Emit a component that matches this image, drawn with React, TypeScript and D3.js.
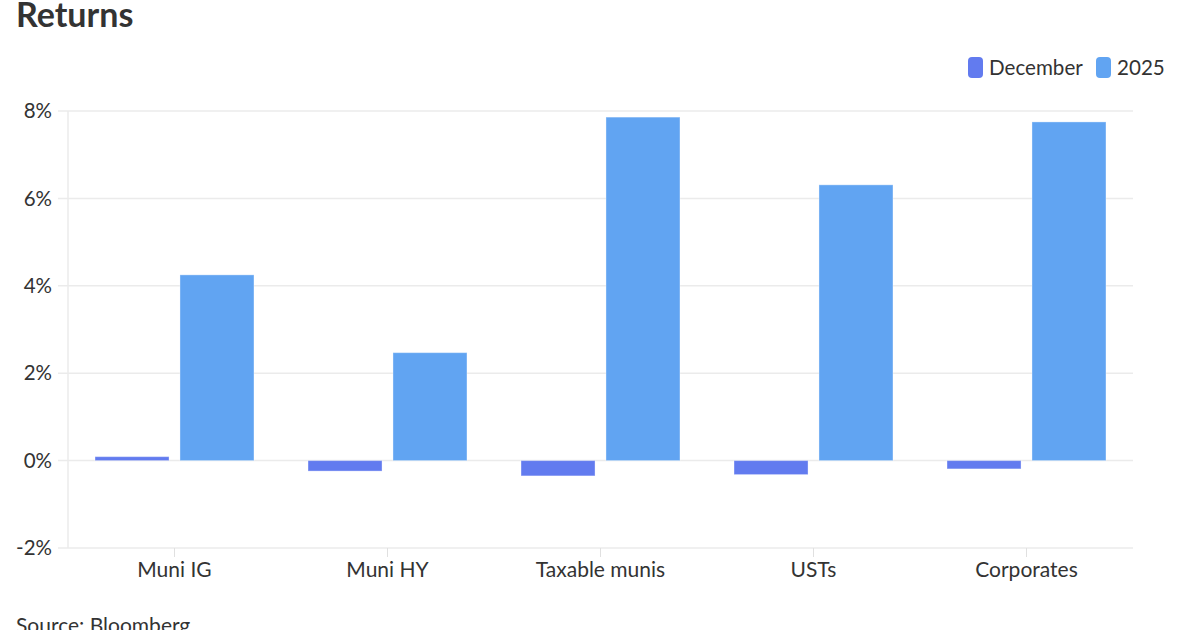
import React from 'react';
import * as d3 from 'd3';

const categories = ['Muni IG', 'Muni HY', 'Taxable munis', 'USTs', 'Corporates'];
const seriesNames = ['December', '2025'];
const decemberValues = [0.09, -0.24, -0.35, -0.32, -0.19];
const yearValues = [4.25, 2.47, 7.86, 6.31, 7.75];
const yTicks = [-2, 0, 2, 4, 6, 8];

const colors: Record<string, string> = { December: '#627bef', '2025': '#61a4f2' };
const font = 'Lato, "Noto Sans", sans-serif';
const textColor = '#333333';

const width = 1200;
const height = 630;
const left = 68;
const right = 1133;
const top = 111;
const bottom = 548;

export default function App() {
  const x0 = d3.scaleBand<string>().domain(categories).range([left, right]).padding(0);
  const x1 = d3.scaleBand<string>().domain(seriesNames).range([0, x0.bandwidth()])
    .paddingInner(0.129).paddingOuter(0.318);
  const y = d3.scaleLinear().domain([-2, 8]).range([bottom, top]);

  const rows = categories.map((c, i) => ({ cat: c, values: [decemberValues[i], yearValues[i]] }));

  return (
    <svg width={width} height={height} style={{ position: 'absolute', left: 0, top: 0, background: '#fff' }}
      fontFamily={font}>
      <text x={16} y={27} fontSize={34} fontWeight={700} fill={textColor}>Returns</text>

      {/* legend */}
      {seriesNames.map((s, i) => {
        const lx = i === 0 ? 968 : 1096;
        return (
          <g key={s} transform={`translate(${lx},57)`}>
            <rect width={15} height={21} rx={4} fill={colors[s]} />
            <text x={21} y={18} fontSize={20.6} fill={textColor}>{s}</text>
          </g>
        );
      })}

      {/* grid */}
      {yTicks.map(t => (
        <g key={t}>
          <line x1={58} x2={right} y1={y(t)} y2={y(t)} stroke="#ebebeb" strokeWidth={1.5} />
          <text x={52} y={y(t)} dy="0.35em" textAnchor="end" fontSize={20.5} fill={textColor}>{`${t}%`}</text>
        </g>
      ))}
      <line x1={left} x2={left} y1={top} y2={bottom} stroke="#ebebeb" strokeWidth={1.5} />

      {/* bars */}
      {rows.map(r => (
        <g key={r.cat} transform={`translate(${x0(r.cat)},0)`}>
          {seriesNames.map((s, j) => {
            const v = r.values[j];
            const y0 = y(0);
            const yv = y(v);
            return (
              <rect key={s} x={x1(s)} width={x1.bandwidth()} y={Math.min(y0, yv)}
                height={Math.abs(yv - y0)} fill={colors[s]} stroke="#ffffff" strokeOpacity={0.35} strokeWidth={1} />
            );
          })}
        </g>
      ))}

      {/* x axis */}
      {categories.map(c => {
        const cx = (x0(c) ?? 0) + x0.bandwidth() / 2;
        return (
          <g key={c}>
            <line x1={cx} x2={cx} y1={bottom} y2={bottom + 9} stroke="#e0e0e0" strokeWidth={1} />
            <text x={cx} y={577} textAnchor="middle" fontSize={21} fill={textColor}>{c}</text>
          </g>
        );
      })}

      <text x={16} y={633} fontSize={21} fill={textColor}>Source: Bloomberg</text>
    </svg>
  );
}
